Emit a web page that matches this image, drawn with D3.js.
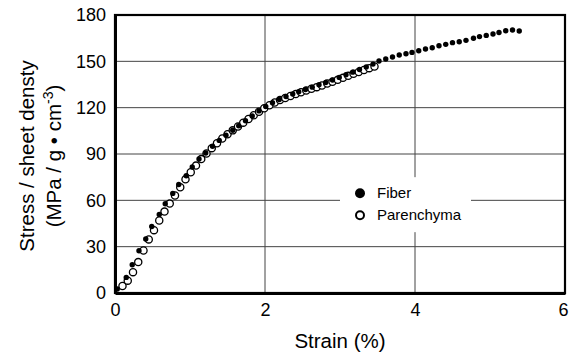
<!DOCTYPE html>
<html>
<head>
<meta charset="utf-8">
<script src="https://cdn.jsdelivr.net/npm/d3@7"></script>
<style>
  body { margin: 0; background: #fff; }
  text { font-family: "Liberation Sans", Arial, sans-serif; fill: #000; }
</style>
</head>
<body>
<div id="chart"></div>
<script>
// data
const fiberStrain = [0.03, 0.15, 0.23, 0.32, 0.41, 0.49, 0.59, 0.67, 0.77, 0.85, 0.95, 1.03, 1.12, 1.21,
    1.30, 1.39, 1.48, 1.57, 1.65, 1.74, 1.83, 1.92, 2.01, 2.10, 2.19, 2.28, 2.37, 2.45, 2.54, 2.63,
    2.72, 2.81, 2.90, 2.99, 3.08, 3.17, 3.26, 3.35, 3.44, 3.52, 3.61, 3.70, 3.79, 3.88, 3.96, 4.05,
    4.14, 4.23, 4.32, 4.41, 4.50, 4.59, 4.68, 4.78, 4.86, 4.95, 5.04, 5.12, 5.21, 5.30, 5.39];
const fiberStress = [2.6, 10.1, 18.3, 27.4, 35.0, 43.1, 50.9, 57.8, 64.5, 70.3, 75.9, 81.6, 86.8, 90.6,
    95.0, 98.8, 102.2, 105.4, 108.3, 111.5, 114.6, 117.9, 120.8, 123.2, 125.3, 127.2, 128.9, 130.3, 131.8, 133.3,
    134.8, 136.3, 137.9, 139.6, 141.3, 143.0, 144.7, 146.4, 148.2, 150.2, 151.5, 152.8, 154.1, 154.9, 155.8, 156.9,
    158.0, 158.8, 160.1, 161.0, 162.1, 162.7, 163.6, 164.9, 166.0, 166.8, 167.7, 168.7, 169.8, 170.3, 169.6];

const parenStrain = [0.10, 0.17, 0.24, 0.31, 0.38, 0.45, 0.52, 0.59, 0.66, 0.73, 0.80, 0.87, 0.94, 1.01,
    1.08, 1.15, 1.22, 1.29, 1.36, 1.43, 1.50, 1.57, 1.64, 1.71, 1.78, 1.85, 1.92, 1.99, 2.06, 2.13,
    2.20, 2.27, 2.34, 2.41, 2.48, 2.55, 2.62, 2.69, 2.76, 2.83, 2.90, 2.97, 3.04, 3.11, 3.18, 3.25,
    3.32, 3.39, 3.46];
const parenStress = [4.5, 8.0, 13.5, 20.0, 27.5, 34.7, 40.7, 46.9, 52.7, 57.9, 63.1, 68.5, 73.6, 78.2,
    82.5, 86.7, 90.3, 93.8, 97.0, 100.0, 102.8, 105.3, 107.8, 110.3, 112.7, 115.1, 117.4, 119.6, 121.6, 123.3,
    124.9, 126.3, 127.6, 128.8, 130.0, 131.1, 132.2, 133.3, 134.4, 135.6, 136.8, 138.0, 139.3, 140.6, 141.9, 143.1,
    144.4, 145.6, 146.7];

const xTicks = [0, 2, 4, 6];
const yTicks = [0, 30, 60, 90, 120, 150, 180];
const seriesNames = ["Fiber", "Parenchyma"];

// margin convention
const svgWidth = 569,
    svgHeight = 355,
    margin = { top: 15, right: 4, bottom: 62, left: 115 },
    width = svgWidth - margin.left - margin.right,
    height = svgHeight - margin.top - margin.bottom;

const svg = d3.select("#chart").append("svg")
    .attr("width", svgWidth)
    .attr("height", svgHeight);
const g = svg.append("g")
    .attr("transform", `translate(${margin.left},${margin.top})`);

const x = d3.scaleLinear().domain([0, 6]).range([0, 450]);
const y = d3.scaleLinear().domain([0, 180]).range([278, 0]);

// grid
g.append("g")
    .selectAll("line")
    .data(yTicks.slice(1, -1))
    .join("line")
    .attr("x1", 0).attr("x2", x(6))
    .attr("y1", d => y(d)).attr("y2", d => y(d))
    .attr("stroke", "#444").attr("stroke-width", 1);
g.append("g")
    .selectAll("line")
    .data(xTicks.slice(1, -1))
    .join("line")
    .attr("x1", d => x(d)).attr("x2", d => x(d))
    .attr("y1", 0).attr("y2", y(0))
    .attr("stroke", "#444").attr("stroke-width", 1);

// legend background (hides grid)
g.append("rect")
    .attr("x", x(3.0)).attr("y", y(75))
    .attr("width", 131).attr("height", 55)
    .attr("fill", "#fff");

// frame
g.append("rect")
    .attr("x", 0).attr("y", 0)
    .attr("width", x(6)).attr("height", y(0))
    .attr("fill", "none").attr("stroke", "#000").attr("stroke-width", 2.2);

// axes
const xAxis = g.append("g")
    .attr("transform", `translate(0,${y(0)})`)
    .call(d3.axisBottom(x).tickValues(xTicks).tickFormat(d3.format("d")).tickSize(0).tickPadding(10));
const yAxis = g.append("g")
    .call(d3.axisLeft(y).tickValues(yTicks).tickFormat(d3.format("d")).tickSize(0).tickPadding(9));
[xAxis, yAxis].forEach(a => {
    a.select(".domain").attr("stroke", "#000").attr("stroke-width", 3);
    a.selectAll("text").attr("font-size", 18).attr("font-family", "Liberation Sans, Arial, sans-serif");
});
// keep the last x label inside the picture
xAxis.selectAll(".tick text").filter(d => d === 6).attr("dx", -2);

// axis titles
svg.append("text")
    .attr("x", margin.left + x(3)).attr("y", 348)
    .attr("text-anchor", "middle")
    .attr("font-size", 20.5)
    .text("Strain (%)");
const yTitle = svg.append("text")
    .attr("transform", `translate(34,156) rotate(-90)`)
    .attr("text-anchor", "middle")
    .attr("font-size", 20.5);
yTitle.append("tspan").attr("x", 0).attr("y", 0).text("Stress / sheet densty");
const l2 = yTitle.append("tspan").attr("x", 0).attr("y", 27);
l2.append("tspan").text("(MPa / g \u2022 cm");
l2.append("tspan").attr("dy", -8).attr("font-size", 14).text("-3");
l2.append("tspan").attr("dy", 8).text(")");

// points
const paren = parenStrain.map((s, i) => ({ s: s, v: parenStress[i] }));
const fiber = fiberStrain.map((s, i) => ({ s: s, v: fiberStress[i] }));

g.selectAll("circle.paren")
    .data(paren)
    .join("circle")
    .attr("class", "paren")
    .attr("cx", d => x(d.s)).attr("cy", d => y(d.v))
    .attr("r", 3.6)
    .attr("fill", "#fff").attr("stroke", "#000").attr("stroke-width", 1.3);

g.selectAll("circle.fiber")
    .data(fiber)
    .join("circle")
    .attr("class", "fiber")
    .attr("cx", d => x(d.s)).attr("cy", d => y(d.v))
    .attr("r", 2.7)
    .attr("fill", "#000");

// legend
const legend = g.append("g").attr("transform", `translate(${x(3.0) + 20},${y(75) + 16})`);
legend.append("circle").attr("cx", 0).attr("cy", 0).attr("r", 5).attr("fill", "#000");
legend.append("circle").attr("cx", 0).attr("cy", 22).attr("r", 4)
    .attr("fill", "#fff").attr("stroke", "#000").attr("stroke-width", 2);
legend.selectAll("text")
    .data(seriesNames)
    .join("text")
    .attr("x", 17).attr("y", (d, i) => i * 22 + 5)
    .attr("font-size", 15)
    .text(d => d);
</script>
</body>
</html>
